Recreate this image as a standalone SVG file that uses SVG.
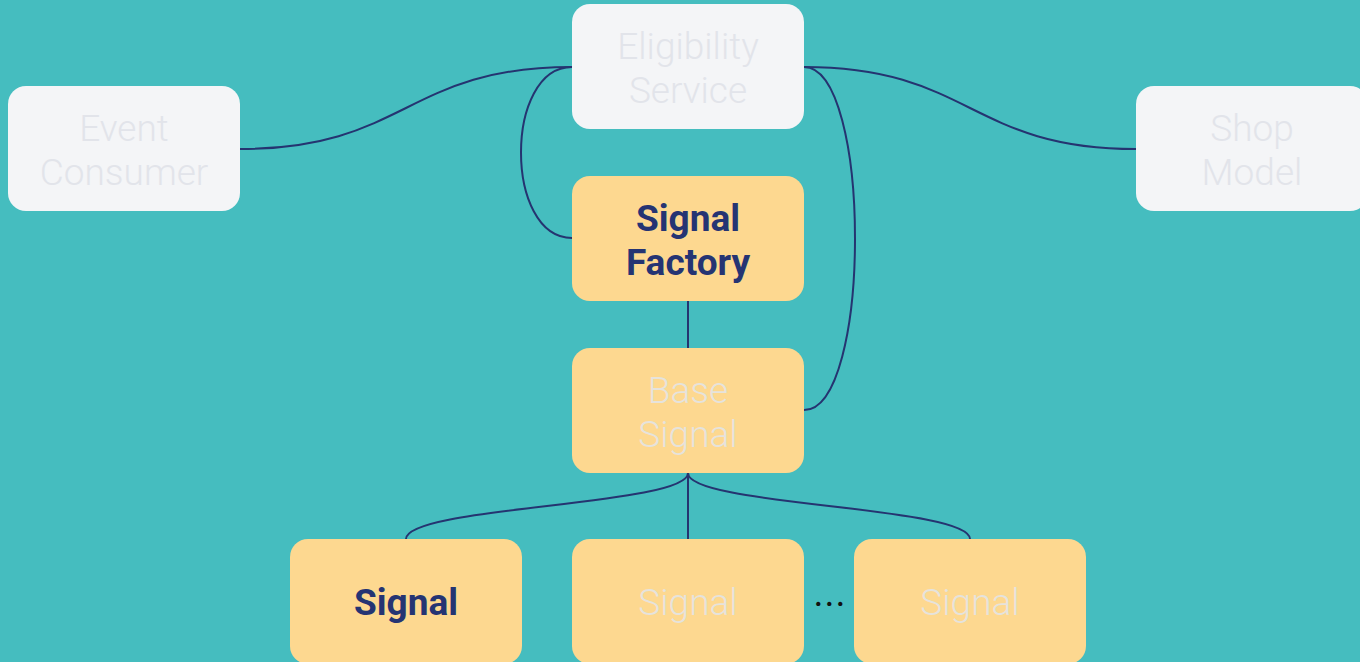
<svg xmlns="http://www.w3.org/2000/svg" width="1360" height="662" viewBox="0 0 1360 662">
<style>
.bg{fill:#45BDBF}
.edge{fill:none;stroke:#253470;stroke-width:2}
.gray{fill:#F4F5F7}
.yel{fill:#FDD890}
.t{font-family:Roboto,"Liberation Sans",sans-serif;font-size:37px;text-anchor:middle}
.dim{font-weight:300;fill:#E2E4EA}
.dimy{font-weight:300;fill:#E6E3DC}
.hi{font-weight:700;fill:#253473}
</style>
<rect class="bg" x="0" y="0" width="1360" height="662"/>
<g id="connectors">
<path class="edge" d="M240,149 C406,149 406,67 572,67"/>
<path class="edge" d="M804,67 C970,67 970,149 1136,149"/>
<path class="edge" d="M572,67 C504,67 504,238 572,238"/>
<path class="edge" d="M804,67 C872,67 872,410 804,410"/>
<path class="edge" d="M688,301 L688,348"/>
<path class="edge" d="M688,473 C688,506 406,506 406,539"/>
<path class="edge" d="M688,473 L688,539"/>
<path class="edge" d="M688,473 C688,506 970,506 970,539"/>
</g>
<g id="eligibility-service">
<rect class="gray" x="572" y="4" width="232" height="125" rx="18"/>
<text class="t dim" x="688" y="59">Eligibility</text>
<text class="t dim" x="688" y="103">Service</text>
</g>
<g id="event-consumer">
<rect class="gray" x="8" y="86" width="232" height="125" rx="18"/>
<text class="t dim" x="124" y="141">Event</text>
<text class="t dim" x="124" y="185">Consumer</text>
</g>
<g id="shop-model">
<rect class="gray" x="1136" y="86" width="232" height="125" rx="18"/>
<text class="t dim" x="1252" y="141">Shop</text>
<text class="t dim" x="1252" y="185">Model</text>
</g>
<g id="signal-factory">
<rect class="yel" x="572" y="176" width="232" height="125" rx="18"/>
<text class="t hi" x="688" y="231">Signal</text>
<text class="t hi" x="688" y="275">Factory</text>
</g>
<g id="base-signal">
<rect class="yel" x="572" y="348" width="232" height="125" rx="18"/>
<text class="t dimy" x="688" y="403">Base</text>
<text class="t dimy" x="688" y="447">Signal</text>
</g>
<g id="signal-1">
<rect class="yel" x="290" y="539" width="232" height="125" rx="18"/>
<text class="t hi" x="406" y="615">Signal</text>
</g>
<g id="signal-2">
<rect class="yel" x="572" y="539" width="232" height="125" rx="18"/>
<text class="t dimy" x="688" y="615">Signal</text>
</g>
<g id="signal-3">
<rect class="yel" x="854" y="539" width="232" height="125" rx="18"/>
<text class="t dimy" x="970" y="615">Signal</text>
</g>
<text id="ellipsis" x="830" y="606" font-family="Roboto,'Liberation Sans',sans-serif" font-size="38" letter-spacing="1" text-anchor="middle" fill="#111111">...</text>
</svg>
